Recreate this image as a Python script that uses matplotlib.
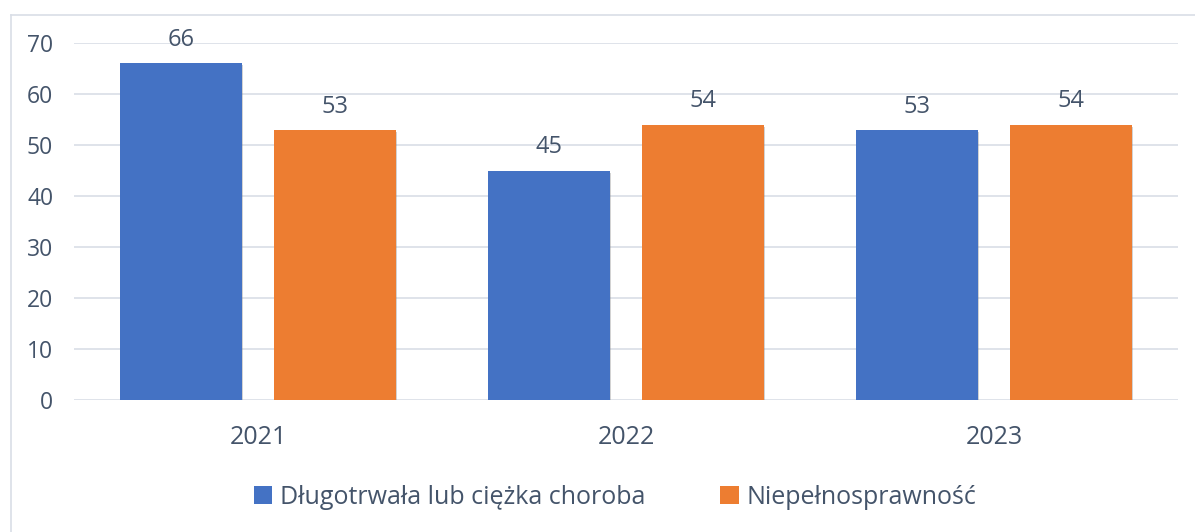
import matplotlib
matplotlib.use("Agg")
import matplotlib.pyplot as plt
from matplotlib.lines import Line2D
from matplotlib.patches import Patch
import matplotlib.patheffects as pe
import numpy as np

plt.rcParams['font.family'] = ['Open Sans', 'DejaVu Sans']

years = ['2021', '2022', '2023']
series_names = ['Długotrwała lub ciężka choroba', 'Niepełnosprawność']
choroba = [66, 45, 53]
niepelno = [53, 54, 54]
colors = ['#4472C4', '#ED7D31']
text_color = '#44546A'
grid_color = '#D9DEE6'

fig = plt.figure(figsize=(11.95, 5.32), dpi=100)
ax = fig.add_axes([74/1195, 1-400/532, 1104/1195, 357/532])

x = np.arange(len(years))
w = 0.332
off = 0.209
shadow = [pe.SimplePatchShadow(offset=(0.5, -1.5), shadow_rgbFace='#808080', alpha=0.35), pe.Normal()]
for vals, sign, c in [(choroba, -1, colors[0]), (niepelno, 1, colors[1])]:
    bars = ax.bar(x + sign*off, vals, width=w, color=c, zorder=3)
    for b, v in zip(bars, vals):
        b.set_path_effects(shadow)
        ax.annotate(str(v), (b.get_x()+b.get_width()/2, v), xytext=(0, 8),
                    textcoords='offset points', ha='center', va='bottom',
                    fontsize=17, color=text_color)

ax.set_xlim(-0.5, 2.5)
ax.set_ylim(0, 70)
ax.set_yticks(range(0, 71, 10))
ax.set_xticks(x)
ax.set_xticklabels(years)
ax.grid(axis='y', color=grid_color, linewidth=1.2, zorder=0)
for s in ax.spines.values():
    s.set_visible(False)
ax.tick_params(axis='x', length=0, colors=text_color, labelsize=18, pad=18)
ax.tick_params(axis='y', length=0, colors=text_color, labelsize=16.5, pad=15)

handles = [Patch(facecolor=colors[0]), Patch(facecolor=colors[1])]
leg = fig.legend(handles, series_names, loc='center', bbox_to_anchor=(615/1195, 1-497/532),
                 ncol=2, frameon=False, fontsize=18, handlelength=0.75, handleheight=0.75,
                 handletextpad=0.3, columnspacing=3.0)
for t in leg.get_texts():
    t.set_color(text_color)

fig.add_artist(Line2D([10.5/1195, 10.5/1195], [0, 1-15/532], transform=fig.transFigure,
                      color='#D9DEE6', linewidth=1.2))
fig.add_artist(Line2D([10.5/1195, 1], [1-15/532, 1-15/532], transform=fig.transFigure,
                      color='#D9DEE6', linewidth=1.2))

fig.savefig('out.png', dpi=100)
